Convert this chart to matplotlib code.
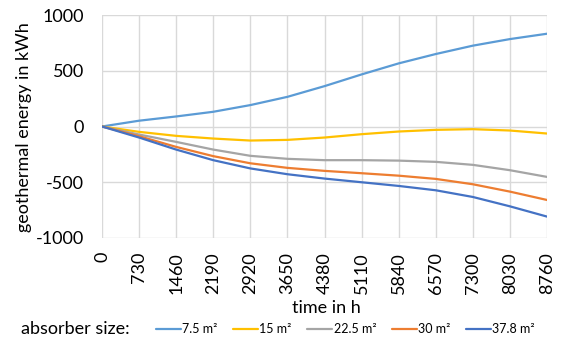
import matplotlib
matplotlib.use("Agg")
import matplotlib.pyplot as plt

plt.rcParams['font.family'] = ['Lato', 'DejaVu Sans']

hours = [0, 730, 1460, 2190, 2920, 3650, 4380, 5110, 5840, 6570, 7300, 8030, 8760]
tick_labels = [str(h) for h in hours]

s_7_5 = [0, 52, 90, 132, 192, 266, 362, 467, 566, 650, 725, 784, 832]
s_15 = [0, -48, -84, -108, -126, -120, -99, -69, -45, -30, -24, -36, -63]
s_22_5 = [0, -72, -138, -207, -263, -290, -302, -302, -306, -317, -344, -392, -452]
s_30 = [0, -87, -183, -266, -330, -371, -398, -419, -441, -470, -518, -584, -659]
s_37_8 = [0, -99, -207, -302, -376, -428, -467, -500, -533, -572, -632, -716, -808]

labels = ['7.5 m²', '15 m²', '22.5 m²', '30 m²', '37.8 m²']
colors = ['#5B9BD5', '#FFC000', '#A5A5A5', '#ED7D31', '#4472C4']
series = [s_7_5, s_15, s_22_5, s_30, s_37_8]

fig = plt.figure(figsize=(5.62, 3.42), dpi=100)
ax = fig.add_axes([102/562, 1-238/342, (547-102)/562, (238-15)/342])

for s, c, l in zip(series, colors, labels):
    ax.plot(hours, s, color=c, lw=1.6, label=l, solid_capstyle='round',
            solid_joinstyle='round')

ax.set_xlim(0, 8760)
ax.set_ylim(-1000, 1000)
ax.set_xticks(hours)
ax.set_xticklabels(tick_labels, rotation=90, fontsize=13)
ax.set_yticks([-1000, -500, 0, 500, 1000])
ax.set_yticklabels(['-1000', '-500', '0', '500', '1000'], fontsize=13)
ax.tick_params(axis='x', length=0, pad=10)
ax.tick_params(axis='y', length=0, pad=13)
ax.grid(True, color='#D9D9D9', lw=1)
ax.set_axisbelow(True)
for sp in ax.spines.values():
    sp.set_visible(False)

fig.text(24/562, 1-127/342, 'geothermal energy in kWh', rotation=90,
         ha='center', va='center', fontsize=13)
fig.text(326/562, 1-308/342, 'time in h', ha='center', va='center', fontsize=13)
fig.text(21/562, 1-329/342, 'absorber size:', ha='left', va='center', fontsize=13)

fig.legend(loc='center left', bbox_to_anchor=(156/562, 1-329/342), ncol=5,
           frameon=False, fontsize=9, handlelength=2.0, handletextpad=0.1,
           columnspacing=1.25, borderpad=0, borderaxespad=0)

fig.savefig('out.png', dpi=100)
